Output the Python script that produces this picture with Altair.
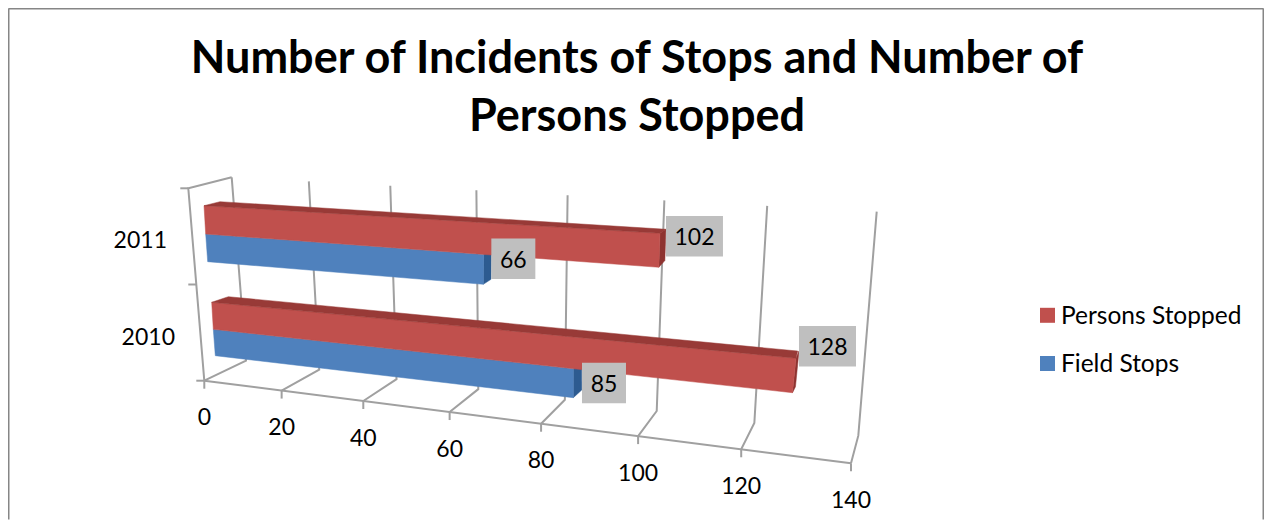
import altair as alt
import pandas as pd

# ---- chart values ----
years = ["2010", "2011"]
persons_stopped = [128, 102]
field_stops = [85, 66]
value_ticks = [0, 20, 40, 60, 80, 100, 120, 140]
title_lines = ["Number of Incidents of Stops and Number of", "Persons Stopped"]
series_names = ["Persons Stopped", "Field Stops"]

# ---- colours and fonts ----
RED, RED_TOP, RED_SIDE = "#c0504d", "#983a37", "#8e3330"
BLUE, BLUE_SIDE = "#4f81bd", "#2d5b90"
GRID, FRAME, BOX = "#a0a0a0", "#868686", "#bfbfbf"
FONT = "Lato"

# ---- 3-D look: perspective of the value axis, in page pixels ----
MAX_V, PERSP = 140.0, -0.185
PAGE_W, PAGE_H, M = 1256, 512, 8


def t(v):
    u = v / MAX_V
    return u * (1 + PERSP) / (1 + PERSP * u)


def on(rail, v):
    (x0, y0), (x1, y1) = rail
    k = t(v)
    return x0 + k * (x1 - x0), y0 + k * (y1 - y0)


FLOOR_FRONT = ((204.3, 380.7), (851.0, 463.3))
FLOOR_BACK = ((246.0, 360.7), (858.3, 435.7))
WALL_TOP = ((231.7, 177.3), (876.7, 211.7))
SIDE_TOP = (188.3, 188.3)

# rails of each bar at value 0 and at the axis maximum
LANES = {
    "2011": dict(top=((204.0, 205.7), (868.4, 245.9)), mid=((205.7, 234.0), (866.0, 282.5)),
                 low=((207.7, 261.7), (862.5, 315.4)), back=((220.0, 201.7), (869.9, 241.9))),
    "2010": dict(top=((211.7, 302.3), (863.2, 364.7)), mid=((213.3, 329.3), (859.1, 400.0)),
                 low=((215.3, 355.7), (857.6, 431.0)), back=((228.3, 296.7), (863.2, 357.3))),
}
# depth of the bar end, top and bottom corner
END_DEPTH = {("2011", "p"): (229.3 - 233.3, 260.0 - 266.7, 6.0), ("2011", "f"): (-4.0, -5.0, 7.7),
             ("2010", "p"): (-7.3, -6.0, 3.0), ("2010", "f"): (-5.0, -7.7, 8.4)}
BOX_OFFSET = {("2011", "p"): (6.0, 3.0), ("2011", "f"): (7.7, 4.3),
              ("2010", "p"): (3.0, -12.0), ("2010", "f"): (8.7, 14.3)}

grid_rows, tick_rows, poly = [], [], {k: [] for k in ["bs", "bf", "rs", "rf", "rt"]}


def add_line(rows, gid, pts):
    for i, (x, y) in enumerate(pts):
        rows.append(dict(sx=x, sy=y, g=gid, o=i))


for v in value_ticks:
    f, b, w = on(FLOOR_FRONT, v), on(FLOOR_BACK, v), on(WALL_TOP, v)
    add_line(grid_rows, f"v{v}", [f, b, w])
    add_line(grid_rows, f"t{v}", [f, (f[0], f[1] + 8)])
p0, p1 = FLOOR_FRONT
add_line(grid_rows, "front", [p0, p1])
add_line(grid_rows, "side", [p0, SIDE_TOP, WALL_TOP[0]])
for k in [0.0, 0.5, 1.0]:
    x = p0[0] + k * (SIDE_TOP[0] - p0[0])
    y = p0[1] + k * (SIDE_TOP[1] - p0[1])
    add_line(grid_rows, f"s{k}", [(x, y), (x - 8, y)])

boxes = []
for i, year in enumerate(years):
    L = LANES[year]
    for key, val, a, b in [("f", field_stops[i], "mid", "low"), ("p", persons_stopped[i], "top", "mid")]:
        ta, tb = on(L[a], val), on(L[b], val)
        dt, db, dx = END_DEPTH[(year, key)]
        front = [on(L[a], 0), ta, tb, on(L[b], 0)]
        side = [ta, (ta[0] + dx, ta[1] + dt), (tb[0] + dx, tb[1] + db), tb]
        add_line(poly["bf" if key == "f" else "rf"], f"{year}{key}", front)
        add_line(poly["bs" if key == "f" else "rs"], f"{year}{key}", side)
        if key == "p":
            add_line(poly["rt"], year, [on(L["top"], 0), on(L["back"], 0), on(L["back"], val), ta])
        ox, oy = BOX_OFFSET[(year, key)]
        w = 44 if val < 100 else 57
        boxes.append(dict(x=ta[0] + ox, x2=ta[0] + ox + w, y=ta[1] + oy - 20.3, y2=ta[1] + oy + 20.3,
                          cx=ta[0] + ox + w / 2, cy=ta[1] + oy + 0.5, label=str(val)))

xs = alt.Scale(domain=[M, M + PAGE_W], range=[0, PAGE_W])
ys = alt.Scale(domain=[M, M + PAGE_H], range=[0, PAGE_H])
X = alt.X("sx:Q", scale=xs, axis=None)
Y = alt.Y("sy:Q", scale=ys, axis=None)


def lines(rows, **kw):
    return alt.Chart(pd.DataFrame(rows)).mark_line(**kw).encode(x=X, y=Y, detail="g:N", order="o:Q")


def polygons(rows, colour):
    return lines(rows, interpolate="linear-closed", fill=colour, stroke=colour, strokeWidth=0.5, fillOpacity=1, filled=True)


tick_labels = pd.DataFrame([dict(sx=on(FLOOR_FRONT, v)[0], sy=on(FLOOR_FRONT, v)[1] + 36, label=str(v)) for v in value_ticks])
year_labels = pd.DataFrame([
    dict(sx=p0[0] + k * (SIDE_TOP[0] - p0[0]) - 52, sy=p0[1] + k * (SIDE_TOP[1] - p0[1]) + 3.5, label=y)
    for k, y in zip([0.25, 0.75], years)])
box_df = pd.DataFrame(boxes)
legend_df = pd.DataFrame([dict(sx=1047.5, sy=315.3, tx=1061, label=series_names[0], c=RED),
                          dict(sx=1047.5, sy=363.5, tx=1061, label=series_names[1], c=BLUE)])
text_style = dict(font=FONT, fontSize=23, color="#000000", baseline="middle", dy=1.5)
legend_style = dict(text_style, fontSize=24.5)
R_EDGE, B_EDGE = M + PAGE_W - 0.5, M + PAGE_H - 0.5
frame_df = pd.DataFrame([dict(sx=8.5, sy=8.5, g="f", o=0), dict(sx=R_EDGE, sy=8.5, g="f", o=1),
                         dict(sx=8.5, sy=8.5, g="l", o=0), dict(sx=8.5, sy=B_EDGE, g="l", o=1),
                         dict(sx=R_EDGE, sy=8.5, g="r", o=0), dict(sx=R_EDGE, sy=B_EDGE, g="r", o=1)])

chart = alt.layer(
    alt.Chart(frame_df).mark_line(color=FRAME, strokeWidth=2, clip=False).encode(x=X, y=Y, detail="g:N", order="o:Q"),
    lines(grid_rows, color=GRID, strokeWidth=2),
    polygons(poly["bs"], BLUE_SIDE),
    polygons(poly["bf"], BLUE),
    polygons(poly["rs"], RED_SIDE),
    polygons(poly["rf"], RED),
    polygons(poly["rt"], RED_TOP),
    alt.Chart(box_df).mark_rect(color=BOX).encode(
        x=alt.X("x:Q", scale=xs, axis=None), x2="x2:Q", y=alt.Y("y:Q", scale=ys, axis=None), y2="y2:Q"),
    alt.Chart(box_df).mark_text(align="center", **text_style).encode(
        x=alt.X("cx:Q", scale=xs, axis=None), y=alt.Y("cy:Q", scale=ys, axis=None), text="label:N"),
    alt.Chart(tick_labels).mark_text(align="center", **text_style).encode(x=X, y=Y, text="label:N"),
    alt.Chart(year_labels).mark_text(align="center", **text_style).encode(x=X, y=Y, text="label:N"),
    alt.Chart(legend_df).mark_square(size=225, opacity=1).encode(x=X, y=Y, fill=alt.Fill("c:N", scale=None)),
    alt.Chart(legend_df).mark_text(align="left", **legend_style).encode(
        x=alt.X("tx:Q", scale=xs, axis=None), y=Y, text="label:N"),
).properties(
    width=PAGE_W, height=PAGE_H, padding=0,
    autosize=alt.AutoSizeParams(type="none"),
    title=alt.TitleParams(text=title_lines, font=FONT, fontSize=45, fontWeight="bold", color="#000000",
                          anchor="middle", offset=-135, lineHeight=58, dx=1),
).configure_view(stroke=None)

chart.save("out.html", embed_options={"renderer": "svg", "actions": False})
